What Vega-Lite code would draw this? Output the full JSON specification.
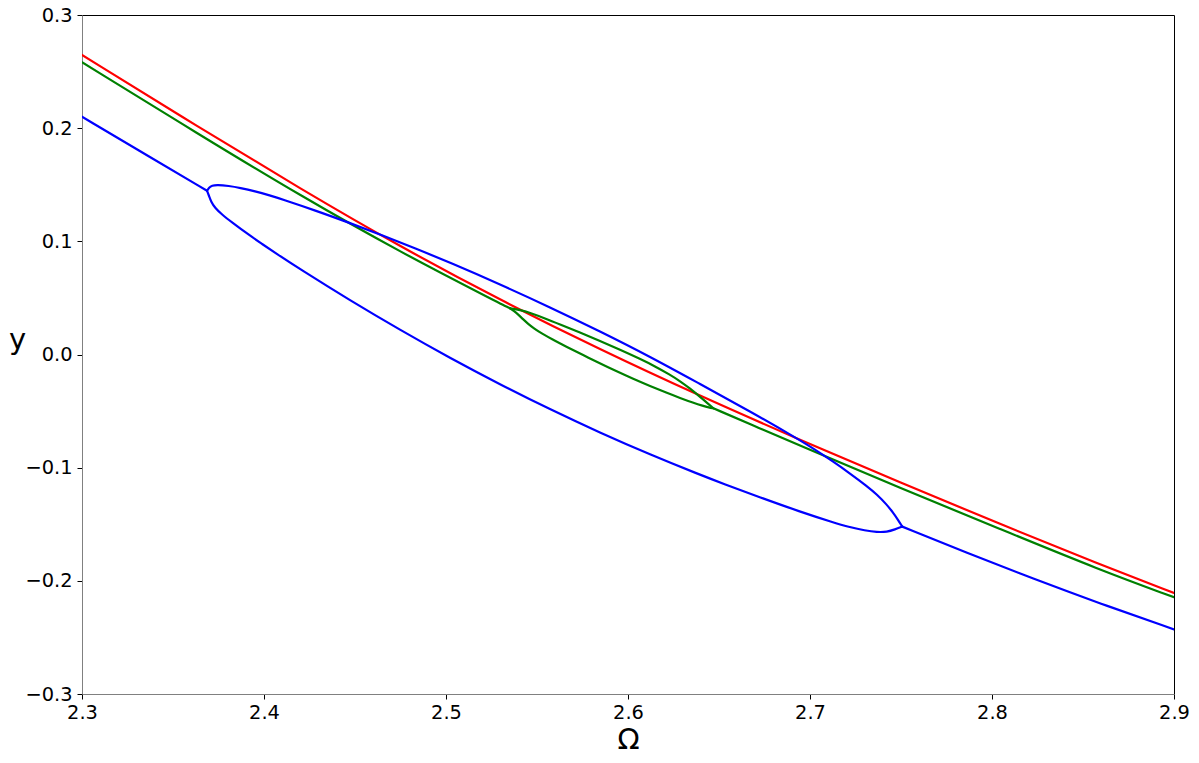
{
  "$schema": "https://vega.github.io/schema/vega-lite/v6.json",
  "width": 1092,
  "height": 679,
  "autosize": {"type": "none"},
  "padding": {"left": 82, "top": 15, "right": 25, "bottom": 69},
  "background": "white",
  "config": {
    "view": {"stroke": "black", "strokeWidth": 1},
    "axis": {
      "grid": false,
      "labelFont": "DejaVu Sans",
      "labelFontSize": 19.4,
      "labelColor": "black",
      "labelFlush": false,
      "labelOverlap": false,
      "labelBound": false,
      "tickSize": 5,
      "tickColor": "black",
      "tickWidth": 1,
      "domainColor": "#808080",
      "domainWidth": 1,
      "titleFont": "DejaVu Sans",
      "titleFontWeight": "normal",
      "titleFontSize": 29,
      "titleColor": "black"
    }
  },
  "data": {
    "values": [
      {"c": "red", "b": "r", "o": 1, "x": 2.3, "y": 0.2647},
      {"c": "red", "b": "r", "o": 2, "x": 2.3648, "y": 0.2002},
      {"c": "red", "b": "r", "o": 3, "x": 2.4198, "y": 0.1467},
      {"c": "red", "b": "r", "o": 4, "x": 2.4747, "y": 0.0954},
      {"c": "red", "b": "r", "o": 5, "x": 2.5297, "y": 0.0482},
      {"c": "red", "b": "r", "o": 6, "x": 2.5846, "y": 0.0044},
      {"c": "red", "b": "r", "o": 7, "x": 2.6396, "y": -0.0367},
      {"c": "red", "b": "r", "o": 8, "x": 2.6945, "y": -0.0755},
      {"c": "red", "b": "r", "o": 9, "x": 2.7495, "y": -0.1131},
      {"c": "red", "b": "r", "o": 10, "x": 2.8044, "y": -0.1498},
      {"c": "red", "b": "r", "o": 11, "x": 2.8593, "y": -0.1856},
      {"c": "red", "b": "r", "o": 12, "x": 2.9, "y": -0.2107},

      {"c": "green", "b": "gleft", "o": 1, "x": 2.3, "y": 0.2582},
      {"c": "green", "b": "gleft", "o": 2, "x": 2.3648, "y": 0.194},
      {"c": "green", "b": "gleft", "o": 3, "x": 2.4198, "y": 0.1405},
      {"c": "green", "b": "gleft", "o": 4, "x": 2.4747, "y": 0.0906},
      {"c": "green", "b": "gleft", "o": 5, "x": 2.5297, "y": 0.0451},
      {"c": "green", "b": "gleft", "o": 6, "x": 2.5352, "y": 0.0408},

      {"c": "green", "b": "gup", "o": 1, "x": 2.5352, "y": 0.0408},
      {"c": "green", "b": "gup", "o": 2, "x": 2.5407, "y": 0.0394},
      {"c": "green", "b": "gup", "o": 3, "x": 2.5462, "y": 0.0368},
      {"c": "green", "b": "gup", "o": 4, "x": 2.5544, "y": 0.0319},
      {"c": "green", "b": "gup", "o": 5, "x": 2.5626, "y": 0.0266},
      {"c": "green", "b": "gup", "o": 6, "x": 2.5736, "y": 0.0194},
      {"c": "green", "b": "gup", "o": 7, "x": 2.5846, "y": 0.0119},
      {"c": "green", "b": "gup", "o": 8, "x": 2.5956, "y": 0.0042},
      {"c": "green", "b": "gup", "o": 9, "x": 2.6066, "y": -0.0039},
      {"c": "green", "b": "gup", "o": 10, "x": 2.6148, "y": -0.0104},
      {"c": "green", "b": "gup", "o": 11, "x": 2.6231, "y": -0.0179},
      {"c": "green", "b": "gup", "o": 12, "x": 2.6286, "y": -0.0236},
      {"c": "green", "b": "gup", "o": 13, "x": 2.6341, "y": -0.0301},
      {"c": "green", "b": "gup", "o": 14, "x": 2.6396, "y": -0.0374},
      {"c": "green", "b": "gup", "o": 15, "x": 2.6469, "y": -0.0475},

      {"c": "green", "b": "glow", "o": 1, "x": 2.5352, "y": 0.0408},
      {"c": "green", "b": "glow", "o": 2, "x": 2.5374, "y": 0.0385},
      {"c": "green", "b": "glow", "o": 3, "x": 2.5396, "y": 0.0354},
      {"c": "green", "b": "glow", "o": 4, "x": 2.5423, "y": 0.0312},
      {"c": "green", "b": "glow", "o": 5, "x": 2.5451, "y": 0.0271},
      {"c": "green", "b": "glow", "o": 6, "x": 2.5484, "y": 0.0229},
      {"c": "green", "b": "glow", "o": 7, "x": 2.5527, "y": 0.0185},
      {"c": "green", "b": "glow", "o": 8, "x": 2.5582, "y": 0.0135},
      {"c": "green", "b": "glow", "o": 9, "x": 2.5663, "y": 0.0068},
      {"c": "green", "b": "glow", "o": 10, "x": 2.5753, "y": -0.0005},
      {"c": "green", "b": "glow", "o": 11, "x": 2.5846, "y": -0.0079},
      {"c": "green", "b": "glow", "o": 12, "x": 2.5934, "y": -0.0146},
      {"c": "green", "b": "glow", "o": 13, "x": 2.6029, "y": -0.0216},
      {"c": "green", "b": "glow", "o": 14, "x": 2.6121, "y": -0.0279},
      {"c": "green", "b": "glow", "o": 15, "x": 2.6213, "y": -0.0339},
      {"c": "green", "b": "glow", "o": 16, "x": 2.6286, "y": -0.0384},
      {"c": "green", "b": "glow", "o": 17, "x": 2.6359, "y": -0.0427},
      {"c": "green", "b": "glow", "o": 18, "x": 2.6412, "y": -0.0454},
      {"c": "green", "b": "glow", "o": 19, "x": 2.6445, "y": -0.0468},
      {"c": "green", "b": "glow", "o": 20, "x": 2.6469, "y": -0.0475},

      {"c": "green", "b": "gright", "o": 1, "x": 2.6469, "y": -0.0475},
      {"c": "green", "b": "gright", "o": 2, "x": 2.6725, "y": -0.0654},
      {"c": "green", "b": "gright", "o": 3, "x": 2.6945, "y": -0.0804},
      {"c": "green", "b": "gright", "o": 4, "x": 2.7495, "y": -0.118},
      {"c": "green", "b": "gright", "o": 5, "x": 2.8044, "y": -0.1542},
      {"c": "green", "b": "gright", "o": 6, "x": 2.8593, "y": -0.1904},
      {"c": "green", "b": "gright", "o": 7, "x": 2.9, "y": -0.2145},

      {"c": "blue", "b": "bleft", "o": 1, "x": 2.3, "y": 0.2101},
      {"c": "blue", "b": "bleft", "o": 2, "x": 2.3374, "y": 0.1745},
      {"c": "blue", "b": "bleft", "o": 3, "x": 2.3687, "y": 0.1447},

      {"c": "blue", "b": "bup", "o": 1, "x": 2.3687, "y": 0.1447},
      {"c": "blue", "b": "bup", "o": 2, "x": 2.3698, "y": 0.1476},
      {"c": "blue", "b": "bup", "o": 3, "x": 2.3714, "y": 0.1493},
      {"c": "blue", "b": "bup", "o": 4, "x": 2.3742, "y": 0.15},
      {"c": "blue", "b": "bup", "o": 5, "x": 2.3806, "y": 0.149},
      {"c": "blue", "b": "bup", "o": 6, "x": 2.3868, "y": 0.1473},
      {"c": "blue", "b": "bup", "o": 7, "x": 2.3951, "y": 0.1443},
      {"c": "blue", "b": "bup", "o": 8, "x": 2.4033, "y": 0.1405},
      {"c": "blue", "b": "bup", "o": 9, "x": 2.4099, "y": 0.1372},
      {"c": "blue", "b": "bup", "o": 10, "x": 2.4282, "y": 0.1273},
      {"c": "blue", "b": "bup", "o": 11, "x": 2.4465, "y": 0.1166},
      {"c": "blue", "b": "bup", "o": 12, "x": 2.4648, "y": 0.1055},
      {"c": "blue", "b": "bup", "o": 13, "x": 2.4831, "y": 0.0938},
      {"c": "blue", "b": "bup", "o": 14, "x": 2.5022, "y": 0.0812},
      {"c": "blue", "b": "bup", "o": 15, "x": 2.5297, "y": 0.062},
      {"c": "blue", "b": "bup", "o": 16, "x": 2.5571, "y": 0.0418},
      {"c": "blue", "b": "bup", "o": 17, "x": 2.5846, "y": 0.0205},
      {"c": "blue", "b": "bup", "o": 18, "x": 2.6121, "y": -0.0019},
      {"c": "blue", "b": "bup", "o": 19, "x": 2.6396, "y": -0.0261},
      {"c": "blue", "b": "bup", "o": 20, "x": 2.667, "y": -0.0501},
      {"c": "blue", "b": "bup", "o": 21, "x": 2.6927, "y": -0.074},
      {"c": "blue", "b": "bup", "o": 22, "x": 2.7027, "y": -0.0839},
      {"c": "blue", "b": "bup", "o": 23, "x": 2.7126, "y": -0.0945},
      {"c": "blue", "b": "bup", "o": 24, "x": 2.722, "y": -0.1051},
      {"c": "blue", "b": "bup", "o": 25, "x": 2.7312, "y": -0.1162},
      {"c": "blue", "b": "bup", "o": 26, "x": 2.7368, "y": -0.1237},
      {"c": "blue", "b": "bup", "o": 27, "x": 2.7421, "y": -0.1325},
      {"c": "blue", "b": "bup", "o": 28, "x": 2.7456, "y": -0.1396},
      {"c": "blue", "b": "bup", "o": 29, "x": 2.7484, "y": -0.1462},
      {"c": "blue", "b": "bup", "o": 30, "x": 2.7507, "y": -0.1521},

      {"c": "blue", "b": "blow", "o": 1, "x": 2.3687, "y": 0.1447},
      {"c": "blue", "b": "blow", "o": 2, "x": 2.3698, "y": 0.1401},
      {"c": "blue", "b": "blow", "o": 3, "x": 2.3709, "y": 0.1352},
      {"c": "blue", "b": "blow", "o": 4, "x": 2.3731, "y": 0.1295},
      {"c": "blue", "b": "blow", "o": 5, "x": 2.3769, "y": 0.1237},
      {"c": "blue", "b": "blow", "o": 6, "x": 2.3824, "y": 0.1168},
      {"c": "blue", "b": "blow", "o": 7, "x": 2.3916, "y": 0.1058},
      {"c": "blue", "b": "blow", "o": 8, "x": 2.3989, "y": 0.0977},
      {"c": "blue", "b": "blow", "o": 9, "x": 2.4062, "y": 0.0898},
      {"c": "blue", "b": "blow", "o": 10, "x": 2.4198, "y": 0.0754},
      {"c": "blue", "b": "blow", "o": 11, "x": 2.4473, "y": 0.0478},
      {"c": "blue", "b": "blow", "o": 12, "x": 2.4747, "y": 0.0218},
      {"c": "blue", "b": "blow", "o": 13, "x": 2.5022, "y": -0.0031},
      {"c": "blue", "b": "blow", "o": 14, "x": 2.5297, "y": -0.0264},
      {"c": "blue", "b": "blow", "o": 15, "x": 2.5571, "y": -0.0485},
      {"c": "blue", "b": "blow", "o": 16, "x": 2.5846, "y": -0.0691},
      {"c": "blue", "b": "blow", "o": 17, "x": 2.6121, "y": -0.0884},
      {"c": "blue", "b": "blow", "o": 18, "x": 2.6396, "y": -0.1063},
      {"c": "blue", "b": "blow", "o": 19, "x": 2.6522, "y": -0.1141},
      {"c": "blue", "b": "blow", "o": 20, "x": 2.6725, "y": -0.1262},
      {"c": "blue", "b": "blow", "o": 21, "x": 2.6945, "y": -0.1389},
      {"c": "blue", "b": "blow", "o": 22, "x": 2.7128, "y": -0.1484},
      {"c": "blue", "b": "blow", "o": 23, "x": 2.722, "y": -0.1526},
      {"c": "blue", "b": "blow", "o": 24, "x": 2.7302, "y": -0.1555},
      {"c": "blue", "b": "blow", "o": 25, "x": 2.7368, "y": -0.157},
      {"c": "blue", "b": "blow", "o": 26, "x": 2.7423, "y": -0.1568},
      {"c": "blue", "b": "blow", "o": 27, "x": 2.7467, "y": -0.1546},
      {"c": "blue", "b": "blow", "o": 28, "x": 2.7507, "y": -0.1521},

      {"c": "blue", "b": "bright", "o": 1, "x": 2.7507, "y": -0.1521},
      {"c": "blue", "b": "bright", "o": 2, "x": 2.7861, "y": -0.1752},
      {"c": "blue", "b": "bright", "o": 3, "x": 2.8227, "y": -0.1982},
      {"c": "blue", "b": "bright", "o": 4, "x": 2.8593, "y": -0.22},
      {"c": "blue", "b": "bright", "o": 5, "x": 2.9, "y": -0.2429}
    ]
  },
  "mark": {"type": "line", "strokeWidth": 2.2, "interpolate": "basis", "strokeCap": "round", "strokeJoin": "round", "clip": true},
  "encoding": {
    "x": {
      "field": "x", "type": "quantitative",
      "scale": {"domain": [2.3, 2.9], "nice": false, "zero": false},
      "axis": {
        "values": [2.3, 2.4, 2.5, 2.6, 2.7, 2.8, 2.9],
        "format": ".1f",
        "labelPadding": 4,
        "title": "Ω",
        "titleY": 54,
        "titleBaseline": "alphabetic"
      }
    },
    "y": {
      "field": "y", "type": "quantitative",
      "scale": {"domain": [-0.3, 0.3], "nice": false, "zero": false},
      "axis": {
        "values": [-0.3, -0.2, -0.1, 0, 0.1, 0.2, 0.3],
        "format": ".1f",
        "labelPadding": 5,
        "title": "y",
        "titleAngle": 0,
        "titleAlign": "center",
        "titleBaseline": "alphabetic",
        "titleX": -65,
        "titleY": 333
      }
    },
    "color": {
      "field": "c", "type": "nominal",
      "scale": {"domain": ["red", "green", "blue"], "range": ["#ff0000", "#008000", "#0000ff"]},
      "legend": null
    },
    "detail": {"field": "b", "type": "nominal"},
    "order": {"field": "o", "type": "quantitative"}
  }
}
